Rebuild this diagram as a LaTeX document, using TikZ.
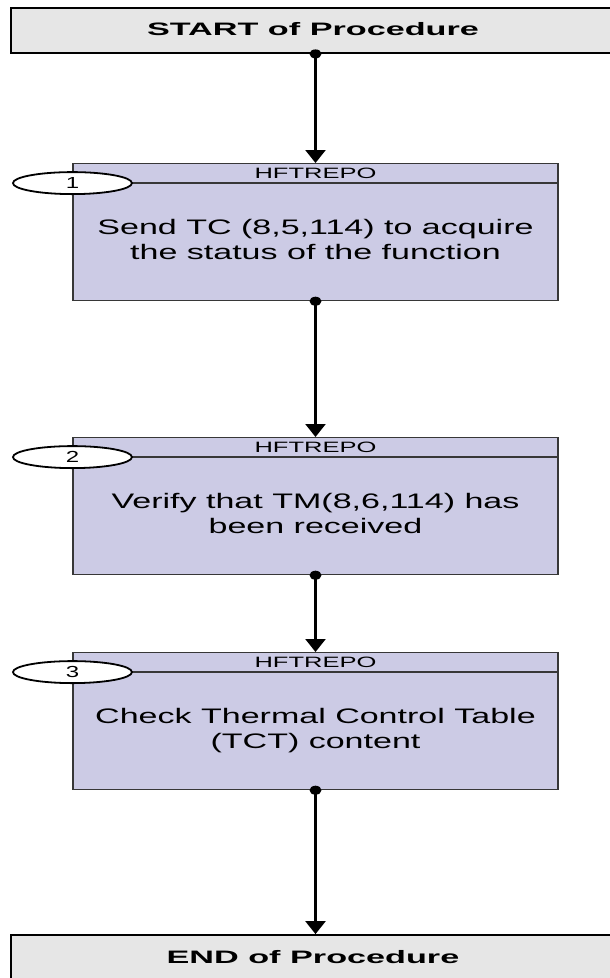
\documentclass[tikz,border=0pt]{standalone}
\usepackage{fontspec}
\setmainfont{Liberation Sans}
\usetikzlibrary{arrows.meta,shapes.geometric}

\definecolor{procfill}{RGB}{204,203,229}
\definecolor{termfill}{RGB}{230,230,230}
\definecolor{procline}{RGB}{55,55,55}

% horizontally widened text
\newcommand\widetext[2]{\scalebox{#1}[1]{#2}}
\newcommand\bodytext[2]{\widetext{1.62}{\fontsize{21}{25}\selectfont
  \begin{tabular}{@{}c@{}}#1\\#2\end{tabular}}}

\begin{document}
\begin{tikzpicture}[x=1pt,y=-1pt,
  termbox/.style={draw=black, line width=1.8pt, fill=termfill,
    minimum width=604pt, inner sep=0pt, text height=13pt,
    font=\fontsize{18}{20}\selectfont\bfseries},
  headbox/.style={draw=procline, line width=1.1pt, fill=procfill,
    minimum width=485pt, minimum height=19pt, inner sep=0pt,
    text height=11pt, text depth=0pt, anchor=north,
    font=\fontsize{15}{17}\selectfont},
  bodybox/.style={draw=procline, line width=1.1pt, fill=procfill,
    minimum width=485pt, minimum height=117pt, inner sep=0pt, anchor=north},
  stepno/.style={ellipse, draw=black, line width=1.8pt, fill=white,
    minimum width=119pt, minimum height=22pt, inner sep=0pt,
    font=\fontsize{16}{18}\selectfont},
  flow/.style={line width=2.4pt, -{Triangle[width=20pt,length=13pt]}},
  dotr/.style={fill=black}]

\useasboundingbox (0,0) rectangle (610,978);

% start and end terminals
\node[termbox, minimum height=45pt, text depth=4pt] (start) at (313,30.5)
  {\widetext{1.9}{START of Procedure}};
\node[termbox, minimum height=55pt, text depth=12pt] (end) at (313,962.5)
  {\widetext{1.9}{END of Procedure}};

% step 1
\node[headbox] (h1) at (315.5,163) {\widetext{1.7}{HFTREPO}};
\node[bodybox] (b1) at (h1.south)
  {\bodytext{Send TC (8,5,114) to acquire}{the status of the function}};
\node[stepno] (n1) at (h1.south west) {\widetext{1.5}{1}};

% step 2
\node[headbox] (h2) at (315.5,437) {\widetext{1.7}{HFTREPO}};
\node[bodybox] (b2) at (h2.south)
  {\bodytext{Verify that TM(8,6,114) has}{been received}};
\node[stepno] (n2) at (h2.south west) {\widetext{1.5}{2}};

% step 3
\node[headbox] (h3) at (315.5,652) {\widetext{1.7}{HFTREPO}};
\node[bodybox] (b3) at (h3.south)
  {\bodytext{Check Thermal Control Table}{(TCT) content}};
\node[stepno] (n3) at (h3.south west) {\widetext{1.5}{3}};

% connectors
\draw[flow] (start.south -| h1.north) -- (h1.north);
\draw[flow] (b1.south) -- (h2.north);
\draw[flow] (b2.south) -- (h3.north);
\draw[flow] (b3.south) -- (end.north -| b3.south);

% connection dots on the outgoing side
\fill[dotr] (start.south -| h1.north) ellipse [x radius=6pt, y radius=4.5pt];
\fill[dotr] (b1.south) ellipse [x radius=6pt, y radius=4.5pt];
\fill[dotr] (b2.south) ellipse [x radius=6pt, y radius=4.5pt];
\fill[dotr] (b3.south) ellipse [x radius=6pt, y radius=4.5pt];
\end{tikzpicture}
\end{document}
